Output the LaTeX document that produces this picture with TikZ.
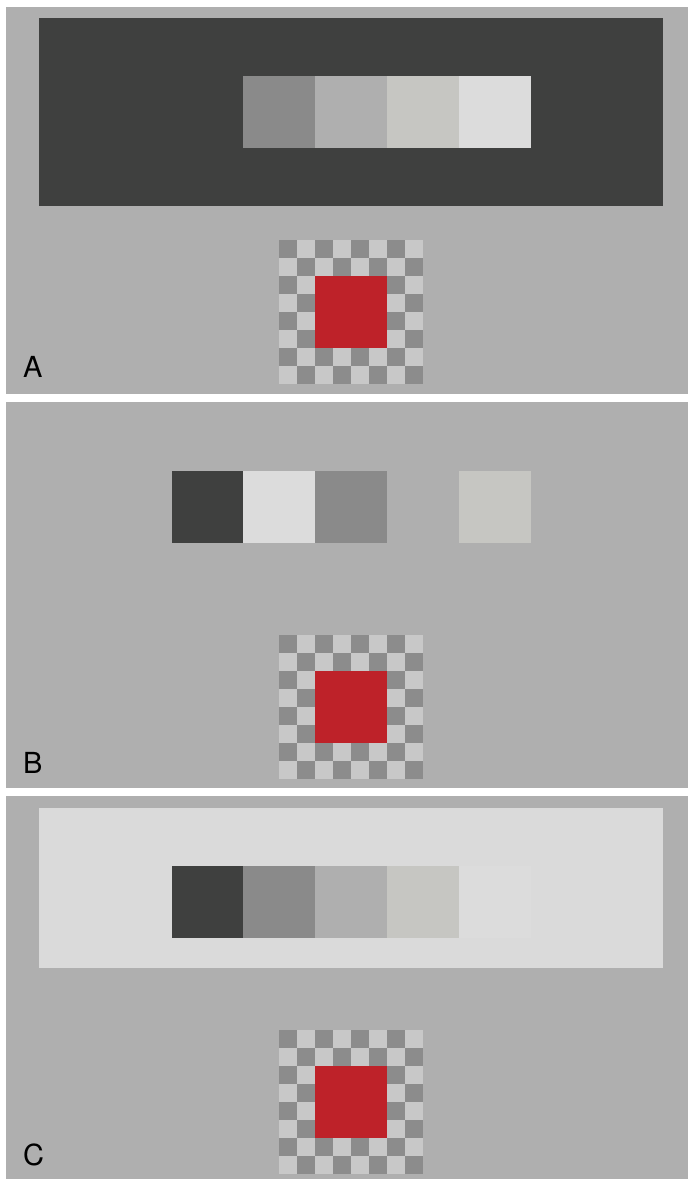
\documentclass[tikz,border=0pt]{standalone}
\usepackage{fontspec}
\setmainfont{TeX Gyre Heros}
\definecolor{panelgray}{HTML}{AFAFAF}
\definecolor{darkband}{HTML}{3F403F}
\definecolor{lightband}{HTML}{DADADA}
\definecolor{patchA}{HTML}{3F403F}
\definecolor{patchB}{HTML}{8A8A8A}
\definecolor{patchC}{HTML}{AFAFAF}
\definecolor{patchD}{HTML}{C6C6C2}
\definecolor{patchE}{HTML}{DCDCDC}
\definecolor{chkdark}{HTML}{8C8C8C}
\definecolor{chklight}{HTML}{C8C8C8}
\definecolor{target}{HTML}{BE2229}
\tikzset{panel/.style={fill=panelgray},
  letter/.style={anchor=base west, inner sep=0pt, font=\fontsize{29}{29}\selectfont}}

\begin{document}
\begin{tikzpicture}[x=1pt,y=-1pt]
        \useasboundingbox (0,0) rectangle (688,1179);
        \fill[white] (0,0) rectangle (688,1179);

        % the three panels
        \fill[panel] (6,7) rectangle (688,394);
        \fill[panel] (6,402) rectangle (688,788);
        \fill[panel] (6,796) rectangle (688,1179);

        % A: patches on a dark surround
        \fill[darkband] (39,18) rectangle (663,206);
        \fill[patchB] (243,76) rectangle (315,148);
        \fill[patchC] (315,76) rectangle (387,148);
        \fill[patchD] (387,76) rectangle (459,148);
        \fill[patchE] (459,76) rectangle (531,148);

        % B: patches on the plain gray
        \fill[patchA] (172,471) rectangle (243,543);
        \fill[patchE] (243,471) rectangle (315,543);
        \fill[patchB] (315,471) rectangle (387,543);
        \fill[patchD] (459,471) rectangle (531,543);

        % C: patches on a light surround
        \fill[lightband] (39,808) rectangle (663,968);
        \fill[patchA] (172,866) rectangle (243,938);
        \fill[patchB] (243,866) rectangle (315,938);
        \fill[patchC] (315,866) rectangle (387,938);
        \fill[patchD] (387,866) rectangle (459,938);
        \fill[patchE] (459,866) rectangle (531,938);

        % checkerboards with the red target
        \foreach \top in {240,635,1030} {
            \fill[chklight] (279,\top) rectangle (423,\top+144);
            \foreach \i in {0,...,7}
                \foreach \j in {0,...,7} {
                    \pgfmathtruncatemacro\parity{mod(\i+\j,2)}
                    \ifnum\parity=0
                        \fill[chkdark] (279+18*\i,\top+18*\j) rectangle ++(18,18);
                    \fi
                }
            \fill[target] (315,\top+36) rectangle (387,\top+108);
        }

        \node[letter] (labA) at (23,377) {A};
        \node[letter] (labB) at (23,773) {B};
        \node[letter] (labC) at (23,1165) {C};
\end{tikzpicture}
\end{document}
